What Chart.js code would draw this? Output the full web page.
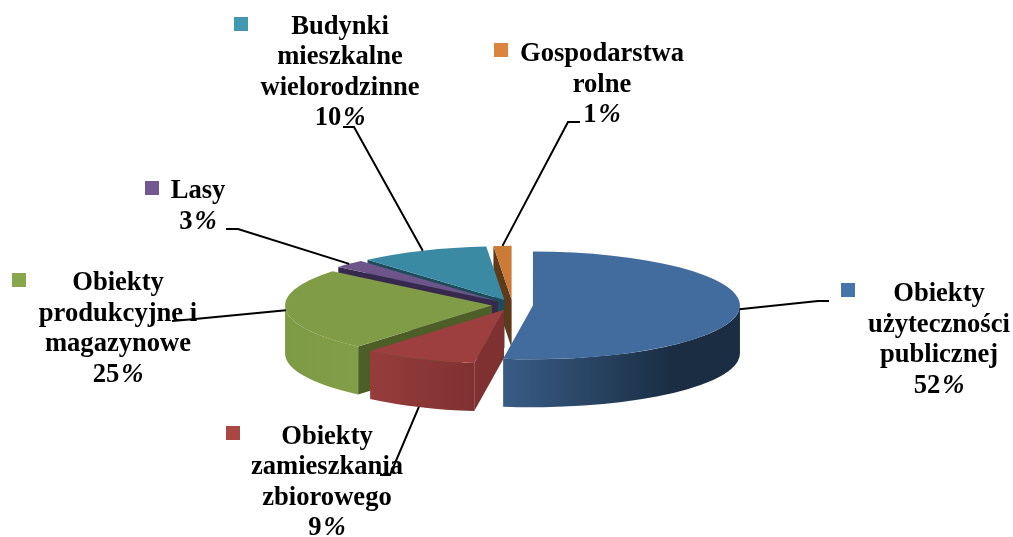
<!DOCTYPE html>
<html>
<head>
<meta charset="utf-8">
<title>Obiekty</title>
<script src="https://cdn.jsdelivr.net/npm/chart.js@4"></script>
<style>
    html, body { margin: 0; padding: 0; background: #ffffff; }
    #wrap { width: 1013px; height: 537px; }
</style>
</head>
<body>
<div id="wrap"><canvas id="pie"></canvas></div>
<script>
// ===== data =====
const categories = [
    "Obiekty użyteczności publicznej",
    "Obiekty zamieszkania zbiorowego",
    "Obiekty produkcyjne i magazynowe",
    "Lasy",
    "Budynki mieszkalne wielorodzinne",
    "Gospodarstwa rolne"
];
// slice sizes, the labels show them rounded
const shares = [52.3, 8.9, 24.8, 2.5, 10.1, 1.4];
const topColors = ["#426c9e", "#9d3f3e", "#819c47", "#6d5489", "#3b8aa3", "#cb7b35"];
const keyColors = ["#4674a8", "#aa4643", "#89a54e", "#71588f", "#4198af", "#db843d"];
const faceColors = ["#1b2e44", "#7f3131", "#4d5e28", "#37284d", "#1d4d5c", "#5f3a1a"];
const rimFrom = ["#395c86", "#963d3c", "#7d9a45", "#37284d", "#1d4d5c", "#5f3a1a"];
const rimTo = ["#1a2d43", "#7f3131", "#829e48", "#37284d", "#1d4d5c", "#5f3a1a"];

// label blocks: text lines, centre x, first baseline, key square, elbow of the leader
const labelLines = [
    ["Obiekty", "użyteczności", "publicznej"],
    ["Obiekty", "zamieszkania", "zbiorowego"],
    ["Obiekty", "produkcyjne i", "magazynowe"],
    ["Lasy"],
    ["Budynki", "mieszkalne", "wielorodzinne"],
    ["Gospodarstwa", "rolne"]
];
const percentLabels = ["52", "9", "25", "3", "10", "1"];
const labelX = [939, 327, 118, 198, 340, 602];
const labelY = [301, 443.5, 290, 198.3, 33.5, 61];
const keyX = [841, 226, 12, 145, 234, 494];
const keyY = [283, 426, 273, 181, 17, 43];
const leaders = [
    [[818, 301], [829, 301]],
    [[390, 475], [380, 475]],
    [[195, 319], [172, 321]],
    [[238, 229], [226, 229]],
    [[354, 127], [343, 127]],
    [[568, 122], [580, 122]]
];

// ===== 3D look =====
const squash = 0.26;
const depth = 48;
const explode = 20.5;
const lineGap = 30.6;

function sliceCentre(arc) {
    const mid = (arc.startAngle + arc.endAngle) / 2;
    return {
        x: arc.x + Math.cos(mid) * explode,
        y: arc.y + Math.sin(mid) * explode * squash
    };
}

function drawWalls(ctx, arc, i) {
    const c = sliceCentre(arc);
    const R = arc.outerRadius;
    const a0 = arc.startAngle, a1 = arc.endAngle;

    // flat cut face on the start side, if it looks towards the viewer
    if (Math.sin(a0 - Math.PI / 2) > 0) {
        const sx = c.x + Math.cos(a0) * R;
        const sy = c.y + Math.sin(a0) * R * squash;
        ctx.fillStyle = faceColors[i];
        ctx.beginPath();
        ctx.moveTo(c.x, c.y);
        ctx.lineTo(sx, sy);
        ctx.lineTo(sx, sy + depth);
        ctx.lineTo(c.x, c.y + depth);
        ctx.closePath();
        ctx.fill();
    }

    // outer rim, only the part that faces the viewer
    const from = Math.max(a0, 0), to = Math.min(a1, Math.PI);
    if (to > from) {
        const left = c.x + Math.cos(to) * R;
        const right = c.x + Math.cos(from) * R;
        const g = ctx.createLinearGradient(left, 0, right, 0);
        g.addColorStop(0, rimFrom[i]);
        g.addColorStop(i === 0 ? 0.72 : 1, rimTo[i]);
        ctx.fillStyle = g;
        ctx.beginPath();
        ctx.ellipse(c.x, c.y, R, R * squash, 0, from, to);
        ctx.ellipse(c.x, c.y + depth, R, R * squash, 0, to, from, true);
        ctx.closePath();
        ctx.fill();
    }
}

// the percent sign in the picture is a slanted one
function drawPercent(ctx, number, x, y) {
    const bold = "bold 26.6px 'Liberation Serif'";
    const slanted = "italic bold 26.6px 'Liberation Serif'";
    ctx.font = bold;
    const w1 = ctx.measureText(number).width;
    ctx.font = slanted;
    const w2 = ctx.measureText("%").width;
    const start = x - (w1 + w2 + 2) / 2;
    ctx.textAlign = "left";
    ctx.font = bold;
    ctx.fillText(number, start, y);
    ctx.font = slanted;
    ctx.fillText("%", start + w1 + 2, y);
    ctx.textAlign = "center";
    ctx.font = bold;
}

const pie3d = {
    id: "pie3d",
    beforeDatasetDraw(chart, args) {
        const ctx = chart.ctx;
        const arcs = args.meta.data;
        // back slices first, the big blue one last
        const order = [5, 4, 3, 2, 1, 0];
        order.forEach(i => {
            const arc = arcs[i];
            drawWalls(ctx, arc, i);
            const mid = (arc.startAngle + arc.endAngle) / 2;
            ctx.save();
            ctx.translate(0, arc.y);
            ctx.scale(1, squash);
            ctx.translate(0, -arc.y);
            ctx.translate(Math.cos(mid) * explode, Math.sin(mid) * explode);
            arc.draw(ctx);
            ctx.restore();
        });
        return false;
    },
    afterDatasetsDraw(chart) {
        const ctx = chart.ctx;
        const arcs = chart.getDatasetMeta(0).data;
        ctx.textAlign = "center";
        ctx.textBaseline = "alphabetic";
        ctx.font = "bold 26.6px 'Liberation Serif'";
        arcs.forEach((arc, i) => {
            ctx.fillStyle = "#000000";
            labelLines[i].forEach((t, n) => {
                ctx.fillText(t, labelX[i], labelY[i] + n * lineGap);
            });
            drawPercent(ctx, percentLabels[i], labelX[i], labelY[i] + labelLines[i].length * lineGap);
            ctx.fillStyle = keyColors[i];
            ctx.fillRect(keyX[i], keyY[i], 14, 14);

            // leader from the rim at the slice's middle angle
            const c = sliceCentre(arc);
            const mid = (arc.startAngle + arc.endAngle) / 2;
            const px = c.x + Math.cos(mid) * arc.outerRadius;
            let py = c.y + Math.sin(mid) * arc.outerRadius * squash;
            if (Math.sin(mid) > 0.5) py += depth;
            ctx.strokeStyle = "#000000";
            ctx.lineWidth = 2;
            ctx.beginPath();
            ctx.moveTo(px, py);
            leaders[i].forEach(p => ctx.lineTo(p[0], p[1]));
            ctx.stroke();
        });
    }
};

// ===== chart =====
const ctx = document.getElementById("pie").getContext("2d");
const pieChart = new Chart(ctx, {
    type: "pie",
    data: {
        labels: categories,
        datasets: [{
            data: shares,
            backgroundColor: topColors,
            borderWidth: 0
        }]
    },
    options: {
        responsive: true,
        maintainAspectRatio: false,
        animation: false,
        radius: 207,
        layout: { padding: { left: 12, top: 73 } },
        plugins: {
            legend: { display: false },
            tooltip: { enabled: false }
        }
    },
    plugins: [pie3d]
});
</script>
</body>
</html>
